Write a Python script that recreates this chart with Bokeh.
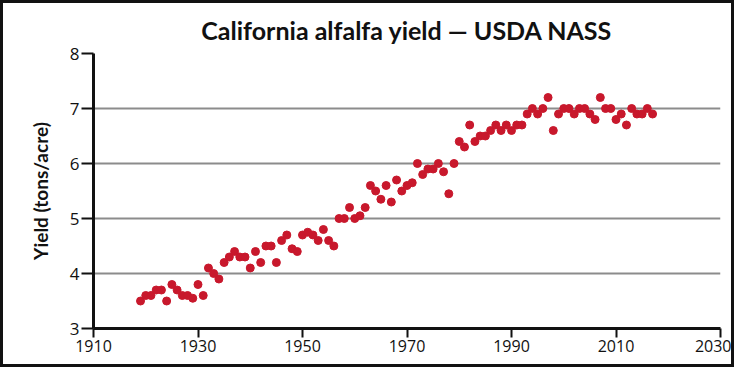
from bokeh.plotting import figure
from bokeh.models import ColumnDataSource, Range1d, FixedTicker
from bokeh.embed import file_html
from bokeh.resources import INLINE

# ---- data ----
years = list(range(1919, 2018))
yield_tons = [
    3.5, 3.6, 3.6, 3.7, 3.7, 3.5, 3.8, 3.7, 3.6, 3.6,        # 1919-1928
    3.55, 3.8, 3.6, 4.1, 4.0, 3.9, 4.2, 4.3, 4.4, 4.3,       # 1929-1938
    4.3, 4.1, 4.4, 4.2, 4.5, 4.5, 4.2, 4.6, 4.7, 4.45,       # 1939-1948
    4.4, 4.7, 4.75, 4.7, 4.6, 4.8, 4.6, 4.5, 5.0, 5.0,       # 1949-1958
    5.2, 5.0, 5.05, 5.2, 5.6, 5.5, 5.35, 5.6, 5.3, 5.7,      # 1959-1968
    5.5, 5.6, 5.65, 6.0, 5.8, 5.9, 5.9, 6.0, 5.85, 5.45,     # 1969-1978
    6.0, 6.4, 6.3, 6.7, 6.4, 6.5, 6.5, 6.6, 6.7, 6.6,        # 1979-1988
    6.7, 6.6, 6.7, 6.7, 6.9, 7.0, 6.9, 7.0, 7.2, 6.6,        # 1989-1998
    6.9, 7.0, 7.0, 6.9, 7.0, 7.0, 6.9, 6.8, 7.2, 7.0,        # 1999-2008
    7.0, 6.8, 6.9, 6.7, 7.0, 6.9, 6.9, 7.0, 6.9,             # 2009-2017
]
x_ticks = [1910, 1930, 1950, 1970, 1990, 2010, 2030]
y_ticks = [3, 4, 5, 6, 7, 8]
title_text = "California alfalfa yield \u2014 USDA NASS"
y_label = "Yield (tons/acre)"

source = ColumnDataSource(data=dict(year=years, value=yield_tons))

p = figure(
    width=728, height=361,
    x_range=Range1d(1910, 2030), y_range=Range1d(3, 8),
    output_backend="svg", toolbar_location=None,
    min_border_left=90, min_border_right=17,
    min_border_top=50, min_border_bottom=42,
)
p.styles = {"border": "3px solid #111111", "box-sizing": "content-box"}

p.title.text = title_text
p.title.align = "center"
p.title.text_font = "Lato"
p.title.text_font_style = "bold"
p.title.text_font_size = "25px"
p.title.text_line_height = 1.0
p.title.text_color = "#111111"
p.title.standoff = 17

p.outline_line_color = None
p.background_fill_color = "white"
p.border_fill_color = "white"

# grid
p.xgrid.grid_line_color = None
p.ygrid.ticker = FixedTicker(ticks=y_ticks)
p.ygrid.grid_line_color = "#8c8c8c"
p.ygrid.grid_line_width = 2

# axes
p.xaxis.ticker = FixedTicker(ticks=x_ticks)
p.yaxis.ticker = FixedTicker(ticks=y_ticks)
for ax in (p.xaxis[0], p.yaxis[0]):
    ax.axis_line_color = "#111111"
    ax.axis_line_width = 3
    ax.major_tick_line_color = "#111111"
    ax.major_tick_line_width = 2
    ax.major_tick_in = 0
    ax.minor_tick_line_color = None
    ax.major_label_text_font = "Open Sans"
    ax.major_label_text_font_size = "17px"
    ax.major_label_text_color = "#111111"

p.yaxis.major_tick_out = 12
p.yaxis.major_label_standoff = 2
p.xaxis.major_tick_out = 9
p.xaxis.major_label_standoff = 2
p.xaxis.major_label_text_font_size = "16px"

p.yaxis.axis_label = y_label
p.yaxis.axis_label_text_font = "Lato"
p.yaxis.axis_label_text_font_style = "bold"
p.yaxis.axis_label_text_font_size = "19px"
p.yaxis.axis_label_text_color = "#111111"
p.yaxis.axis_label_standoff = 15

p.scatter("year", "value", source=source, size=8,
          fill_color="#C8182C", line_color="#C8182C")

open("out.html", "w").write(file_html(p, INLINE))
